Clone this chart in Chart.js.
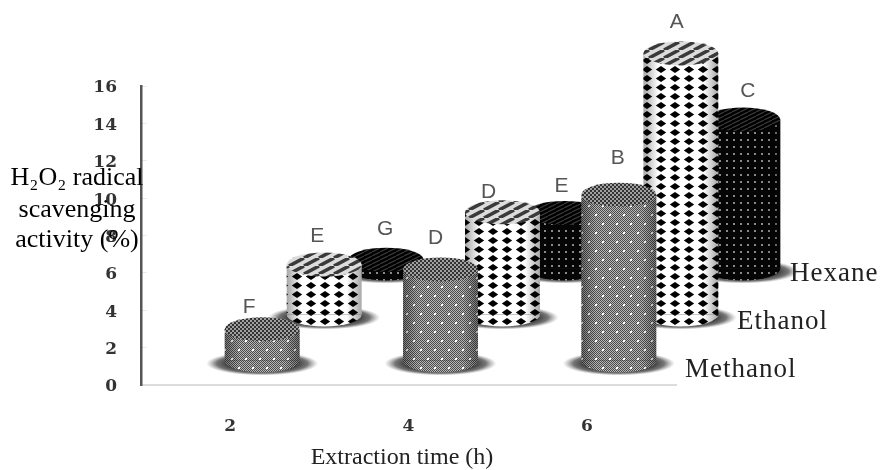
<!DOCTYPE html>
<html>
<head>
<meta charset="utf-8">
<style>
  html, body { margin: 0; padding: 0; background: #fff; }
  #wrap { width: 883px; height: 470px; }
</style>
<script src="https://cdn.jsdelivr.net/npm/chart.js@4"></script>
</head>
<body>
<div id="wrap"><canvas id="chart" width="883" height="470"></canvas></div>
<script>
// Data
const categories = ['2', '4', '6'];
const seriesNames = ['Methanol', 'Ethanol', 'Hexane'];
const methanol = [1.7, 4.9, 8.9];
const ethanol = [2.7, 5.5, 14.0];
const hexane = [0.5, 3.0, 8.0];
const methanolLetters = ['F', 'D', 'B'];
const ethanolLetters = ['E', 'D', 'A'];
const hexaneLetters = ['G', 'E', 'C'];
const yTicks = [0, 2, 4, 6, 8, 10, 12, 14, 16];
const yTitle = ['H₂O₂ radical', 'scavenging', 'activity (%)'];
const xTitle = 'Extraction time (h)';

// Fake 3D: every series is pushed back by its own shift
const depth = [{ dx: 32, dy: -24 }, { dx: 94, dy: -70 }, { dx: 156, dy: -116 }];
const letterShift = [
  [[-13, -22], [-5, -31], [-1, -36]],
  [[-7, -28], [-14, -20], [-4, -31]],
  [[-1, -30], [-3, -27], [5, -28]]
];
const nameSpots = [[685, 370], [737, 322], [790, 274]];
const capHeight = 12;

function tile(w, h, paint) {
  const c = document.createElement('canvas');
  c.width = w;
  c.height = h;
  paint(c.getContext('2d'), w, h);
  return c.getContext('2d').createPattern(c, 'repeat');
}

function diamond(g, x, y, rx, ry) {
  g.beginPath();
  g.moveTo(x - rx, y);
  g.lineTo(x, y - ry);
  g.lineTo(x + rx, y);
  g.lineTo(x, y + ry);
  g.closePath();
  g.fill();
}

function stripes(g, w, h, back, front, lw) {
  g.fillStyle = back;
  g.fillRect(0, 0, w, h);
  g.strokeStyle = front;
  g.lineWidth = lw;
  for (let i = -2 * w; i <= 2 * w; i += w) {
    g.beginPath();
    g.moveTo(i, h);
    g.lineTo(i + w, 0);
    g.stroke();
  }
}

function weave(g, w, h, a, b, cell) {
  for (let y = 0; y < h; y += cell) {
    for (let x = 0; x < w; x += cell) {
      g.fillStyle = (x + y) / cell % 2 === 0 ? a : b;
      g.fillRect(x, y, cell, cell);
    }
  }
}

// Side and top fills of each series
const sideFill = [
  tile(14, 18, (g, w, h) => {
    weave(g, w, h, '#4a4a4a', '#b8b8b8', 1);
    g.fillStyle = '#fff';
    g.fillRect(3, 4, 2, 2);
    g.fillRect(10, 13, 2, 2);
  }),
  tile(14, 9, (g, w, h) => {
    g.fillStyle = '#fff';
    g.fillRect(0, 0, w, h);
    g.fillStyle = '#000';
    diamond(g, 7, 4.5, 5.2, 3.6);
  }),
  tile(7, 7, (g, w, h) => {
    g.fillStyle = '#050505';
    g.fillRect(0, 0, w, h);
    g.fillStyle = '#8a8a8a';
    g.fillRect(3, 3, 2, 2);
  })
];
const topFill = [
  tile(4, 4, (g, w, h) => weave(g, w, h, '#333', '#a0a0a0', 2)),
  tile(15, 8, (g, w, h) => stripes(g, w, h, '#dcdcdc', '#3a3a3a', 3.5)),
  tile(8, 4, (g, w, h) => stripes(g, w, h, '#000', '#3a3a3a', 1.2))
];

const cylinders = {
  id: 'cylinders',
  beforeDatasetDraw(chart, args) {
    const ctx = chart.ctx;
    const d = depth[args.index];
    ctx.save();
    ctx.translate(d.dx, d.dy);
    // floor shadows
    chart.getDatasetMeta(args.index).data.forEach(bar => {
      ctx.save();
      ctx.translate(bar.x, bar.base + 3);
      ctx.scale(1, 12 / 56);
      const g = ctx.createRadialGradient(0, 0, 30, 0, 0, 56);
      g.addColorStop(0, 'rgba(20,20,20,0.95)');
      g.addColorStop(0.6, 'rgba(60,60,60,0.7)');
      g.addColorStop(1, 'rgba(120,120,120,0)');
      ctx.fillStyle = g;
      ctx.beginPath();
      ctx.arc(0, 0, 56, 0, Math.PI * 2);
      ctx.fill();
      ctx.restore();
    });
  },
  afterDatasetDraw(chart, args) {
    const ctx = chart.ctx;
    chart.getDatasetMeta(args.index).data.forEach(bar => {
      const rx = bar.width / 2;
      const left = bar.x - rx;
      // rounded foot
      ctx.fillStyle = sideFill[args.index];
      ctx.beginPath();
      ctx.ellipse(bar.x, bar.base, rx, capHeight, 0, 0, Math.PI);
      ctx.fill();
      // round shading across the body
      const shade = ctx.createLinearGradient(left, 0, left + bar.width, 0);
      shade.addColorStop(0, 'rgba(0,0,0,0.35)');
      shade.addColorStop(0.2, 'rgba(0,0,0,0)');
      shade.addColorStop(0.8, 'rgba(0,0,0,0)');
      shade.addColorStop(1, 'rgba(0,0,0,0.35)');
      ctx.fillStyle = shade;
      ctx.beginPath();
      ctx.moveTo(left, bar.y);
      ctx.lineTo(left + bar.width, bar.y);
      ctx.lineTo(left + bar.width, bar.base);
      ctx.ellipse(bar.x, bar.base, rx, capHeight, 0, 0, Math.PI);
      ctx.closePath();
      ctx.fill();
      // top
      ctx.fillStyle = topFill[args.index];
      ctx.beginPath();
      ctx.ellipse(bar.x, bar.y, rx, capHeight, 0, 0, Math.PI * 2);
      ctx.fill();
    });
    ctx.restore();
  },
  afterDraw(chart) {
    const ctx = chart.ctx;
    const letters = [methanolLetters, ethanolLetters, hexaneLetters];
    ctx.save();
    ctx.textBaseline = 'middle';
    ctx.textAlign = 'center';

    // significance letters
    ctx.font = '21px "Liberation Sans"';
    ctx.fillStyle = '#555';
    letters.forEach((row, s) => {
      const bars = chart.getDatasetMeta(s).data;
      row.forEach((t, i) => {
        const x = bars[i].x + depth[s].dx + letterShift[s][i][0];
        const y = bars[i].y + depth[s].dy + letterShift[s][i][1];
        ctx.fillText(t, x, y);
      });
    });

    // y title sits over the tick labels, like the original
    ctx.font = '26px "Liberation Serif"';
    ctx.fillStyle = '#000';
    [178, 210, 240].forEach((y, i) => ctx.fillText(yTitle[i], 77, y));

    // x title is not centred on the plot in the original
    ctx.font = '24px "Liberation Serif"';
    ctx.fillStyle = '#222';
    ctx.fillText(xTitle, 402, 458);

    // series names along the depth axis
    ctx.textAlign = 'left';
    ctx.font = '27px "Liberation Serif"';
    ctx.letterSpacing = '1px';
    seriesNames.forEach((t, i) => ctx.fillText(t, nameSpots[i][0], nameSpots[i][1]));
    ctx.restore();
  }
};

new Chart(document.getElementById('chart'), {
  type: 'bar',
  data: {
    labels: categories,
    datasets: [methanol, ethanol, hexane].map((values, i) => ({
      label: seriesNames[i],
      data: values,
      backgroundColor: sideFill[i],
      borderWidth: 0,
      grouped: false,
      barPercentage: 0.42,
      categoryPercentage: 1,
      clip: false
    }))
  },
  plugins: [cylinders],
  options: {
    responsive: false,
    animation: false,
    events: [],
    layout: { padding: { top: 86, right: 207, left: 0, bottom: 0 } },
    plugins: { legend: { display: false }, tooltip: { enabled: false }, title: { display: false } },
    scales: {
      x: {
        afterFit: s => { s.height = 85; },
        grid: { display: true, drawOnChartArea: false, drawTicks: false },
        border: { color: '#dcdcdc', width: 2 },
        ticks: {
          padding: 31,
          maxRotation: 0,
          color: '#333',
          font: { family: 'DejaVu Serif', size: 17, weight: 'bold' }
        }
      },
      y: {
        min: 0,
        max: 16,
        afterFit: s => { s.width = 141; },
        afterBuildTicks: s => { s.ticks = yTicks.map(v => ({ value: v })); },
        grid: { drawOnChartArea: false, tickLength: -6, color: '#e3ebf3', tickWidth: 1 },
        border: { color: '#555', width: 2.5 },
        ticks: {
          padding: 30,
          labelOffset: 2,
          color: '#333',
          font: { family: 'DejaVu Serif', size: 17, weight: 'bold' }
        }
      }
    }
  }
});
</script>
</body>
</html>
